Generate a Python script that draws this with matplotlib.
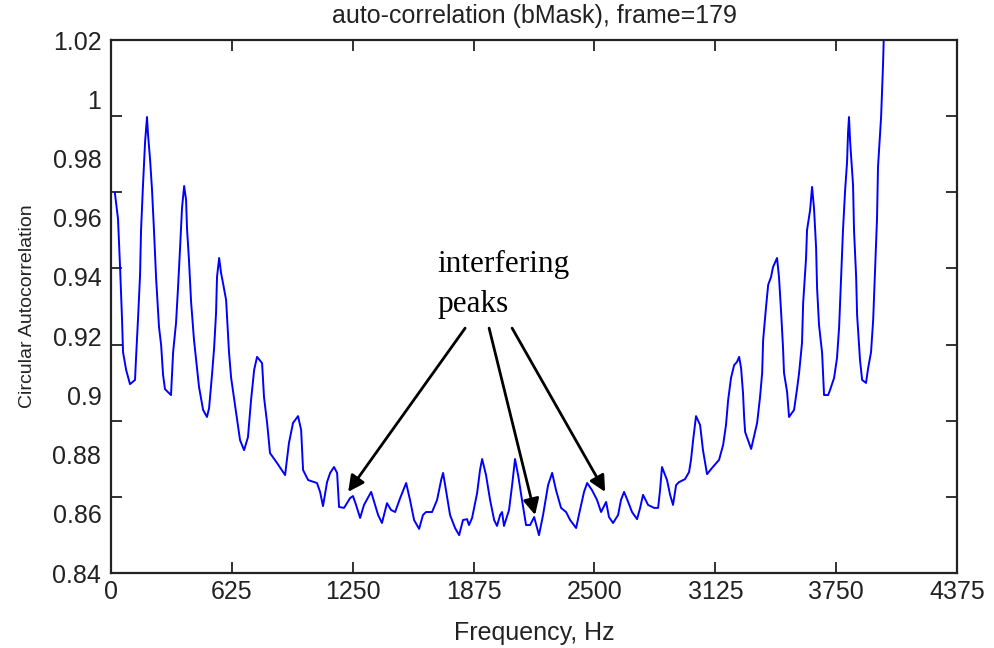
import matplotlib

matplotlib.use("Agg")
import matplotlib.pyplot as plt  # noqa: E402
import numpy as np  # noqa: E402

# circular autocorrelation of the binary mask, frame 179
freq_hz = [
    20, 36, 47, 57, 62, 78, 98, 124, 129, 140,
    150, 155, 165, 176, 186, 191, 202, 212, 222, 233,
    248, 259, 269, 279, 310, 321, 336, 346, 357, 367,
    378, 388, 393, 403, 414, 429, 440, 455, 476, 496,
    507, 522, 533, 543, 548, 559, 569, 579, 595, 610,
    621, 636, 652, 667, 688, 708, 724, 740, 755, 781,
    791, 807, 822, 858, 900, 920, 941, 967, 983, 993,
    1019, 1065, 1081, 1096, 1117, 1133, 1153, 1169, 1179, 1205,
    1236, 1251, 1267, 1288, 1308, 1345, 1365, 1381, 1401, 1427,
    1448, 1469, 1495, 1526, 1546, 1567, 1593, 1613, 1629, 1660,
    1686, 1707, 1717, 1732, 1753, 1779, 1800, 1820, 1841, 1851,
    1867, 1893, 1908, 1919, 1939, 1960, 1981, 1996, 2012, 2022,
    2032, 2058, 2074, 2089, 2105, 2125, 2146, 2167, 2188, 2213,
    2234, 2260, 2281, 2301, 2327, 2353, 2374, 2405, 2425, 2446,
    2462, 2487, 2513, 2534, 2560, 2575, 2596, 2622, 2637, 2653,
    2674, 2694, 2720, 2736, 2751, 2777, 2808, 2829, 2839, 2849,
    2875, 2891, 2906, 2922, 2937, 2968, 2989, 2999, 3010, 3025,
    3046, 3061, 3082, 3108, 3144, 3165, 3180, 3191, 3206, 3222,
    3237, 3248, 3258, 3268, 3274, 3279, 3310, 3341, 3356, 3367,
    3372, 3387, 3398, 3413, 3423, 3444, 3454, 3465, 3475, 3480,
    3496, 3506, 3532, 3548, 3558, 3573, 3579, 3594, 3599, 3615,
    3625, 3635, 3646, 3651, 3661, 3677, 3687, 3708, 3718, 3739,
    3754, 3765, 3775, 3785, 3796, 3806, 3811, 3816, 3822, 3837,
    3842, 3853, 3858, 3873, 3884, 3904, 3915, 3930, 3941, 3951,
    3961, 3966, 3982, 3992, 3997, 4008,
]
autocorr = [
    0.9683, 0.9596, 0.9427, 0.9254, 0.9146, 0.9086, 0.9038, 0.9052, 0.9123, 0.9265,
    0.9406, 0.9555, 0.9707, 0.9856, 0.9940, 0.9883, 0.9795, 0.9693, 0.9558, 0.9396,
    0.9231, 0.9170, 0.9069, 0.9021, 0.9001, 0.9146, 0.9244, 0.9359, 0.9498, 0.9633,
    0.9707, 0.9660, 0.9562, 0.9457, 0.9315, 0.9187, 0.9119, 0.9028, 0.8951, 0.8927,
    0.8957, 0.9069, 0.9160, 0.9278, 0.9400, 0.9464, 0.9413, 0.9379, 0.9322, 0.9146,
    0.9059, 0.8991, 0.8917, 0.8849, 0.8815, 0.8859, 0.8984, 0.9086, 0.9130, 0.9109,
    0.8994, 0.8907, 0.8805, 0.8772, 0.8731, 0.8839, 0.8907, 0.8930, 0.8883, 0.8748,
    0.8714, 0.8704, 0.8674, 0.8626, 0.8707, 0.8738, 0.8758, 0.8738, 0.8623, 0.8620,
    0.8653, 0.8660, 0.8630, 0.8586, 0.8630, 0.8674, 0.8630, 0.8596, 0.8569, 0.8636,
    0.8613, 0.8606, 0.8653, 0.8704, 0.8647, 0.8579, 0.8549, 0.8596, 0.8606, 0.8606,
    0.8647, 0.8714, 0.8738, 0.8680, 0.8596, 0.8552, 0.8528, 0.8579, 0.8582, 0.8562,
    0.8586, 0.8670, 0.8748, 0.8785, 0.8731, 0.8647, 0.8579, 0.8559, 0.8596, 0.8606,
    0.8559, 0.8613, 0.8697, 0.8785, 0.8731, 0.8647, 0.8562, 0.8562, 0.8589, 0.8528,
    0.8596, 0.8697, 0.8738, 0.8680, 0.8620, 0.8606, 0.8579, 0.8552, 0.8613, 0.8674,
    0.8704, 0.8680, 0.8647, 0.8606, 0.8640, 0.8589, 0.8569, 0.8596, 0.8647, 0.8674,
    0.8640, 0.8606, 0.8582, 0.8620, 0.8664, 0.8630, 0.8620, 0.8620, 0.8680, 0.8758,
    0.8714, 0.8664, 0.8630, 0.8697, 0.8707, 0.8717, 0.8741, 0.8782, 0.8849, 0.8930,
    0.8900, 0.8815, 0.8734, 0.8755, 0.8782, 0.8832, 0.8900, 0.8984, 0.9059, 0.9102,
    0.9113, 0.9130, 0.9092, 0.9008, 0.8924, 0.8876, 0.8819, 0.8907, 0.8994, 0.9076,
    0.9187, 0.9298, 0.9373, 0.9400, 0.9433, 0.9464, 0.9400, 0.9281, 0.9160, 0.9076,
    0.9011, 0.8927, 0.8951, 0.9025, 0.9076, 0.9177, 0.9312, 0.9464, 0.9558, 0.9626,
    0.9704, 0.9633, 0.9498, 0.9362, 0.9238, 0.9143, 0.9001, 0.9001, 0.9018, 0.9059,
    0.9126, 0.9231, 0.9396, 0.9558, 0.9693, 0.9788, 0.9886, 0.9940, 0.9856, 0.9710,
    0.9558, 0.9400, 0.9271, 0.9119, 0.9052, 0.9042, 0.9092, 0.9146, 0.9254, 0.9427,
    0.9599, 0.9771, 0.9940, 1.0116, 1.0234, 1.0400,
]

x_ticks = [0, 625, 1250, 1875, 2500, 3125, 3750, 4375]
y_ticks = [0.84, 0.86, 0.88, 0.9, 0.92, 0.94, 0.96, 0.98, 1.0, 1.02]
y_tick_labels = ["0.84", "0.86", "0.88", "0.9", "0.92", "0.94", "0.96", "0.98", "1", "1.02"]

# annotation: two text lines plus the three peaks they point at
note_lines = ["interfering", "peaks"]
note_x = 1686
note_baselines = [0.9417, 0.9281]
arrow_tails = [(1831, 0.9227), (1955, 0.9227), (2074, 0.9227)]
arrow_tips = [(1226, 0.8674), (2193, 0.8596), (2555, 0.8674)]

plt.rcParams["font.family"] = ["Liberation Sans", "DejaVu Sans"]
ink = "#222222"

fig = plt.figure(figsize=(9.95, 6.48), dpi=100)
ax = fig.add_axes([0.1116, 0.1157, 0.8503, 0.8225])

ax.plot(freq_hz, autocorr, color="#0000ff", lw=1.4)
ax.set_xlim(0, 4375)
ax.set_ylim(0.84, 1.02)

ax.set_xticks(x_ticks)
ax.set_xticklabels([str(t) for t in x_ticks])
ax.set_yticks(y_ticks)
ax.set_yticklabels(y_tick_labels)

# the tick marks on the y axis sit on a 7-step grid, separate from the labels
ax.set_yticks(np.linspace(0.84, 1.02, 8), minor=True)
ax.tick_params(axis="x", which="major", direction="in", length=8, width=1.3,
               top=True, labelsize=18, pad=5, colors=ink)
ax.tick_params(axis="y", which="major", length=0, labelsize=18, pad=7,
               colors=ink)
ax.tick_params(axis="y", which="minor", direction="in", length=8, width=1.3,
               right=True, left=True, colors=ink)
ax.tick_params(axis="x", which="minor", bottom=False, top=False)

for side in ax.spines.values():
    side.set_linewidth(1.6)
    side.set_color(ink)

ax.set_title("auto-correlation (bMask), frame=179", fontsize=18, pad=12,
             color=ink)
ax.set_xlabel("Frequency, Hz", fontsize=18, labelpad=12, color=ink)
ax.set_ylabel("Circular Autocorrelation", fontsize=14, labelpad=12, color=ink)

for line, base in zip(note_lines, note_baselines):
    ax.text(note_x, base, line, family=["Liberation Serif"], fontsize=22.5,
            va="baseline", ha="left")
for tail, tip in zip(arrow_tails, arrow_tips):
    ax.annotate("", xy=tip, xytext=tail,
                arrowprops=dict(arrowstyle="-|>", color="black", lw=2,
                                mutation_scale=24, shrinkA=0, shrinkB=0))

fig.savefig("out.png", dpi=100)
